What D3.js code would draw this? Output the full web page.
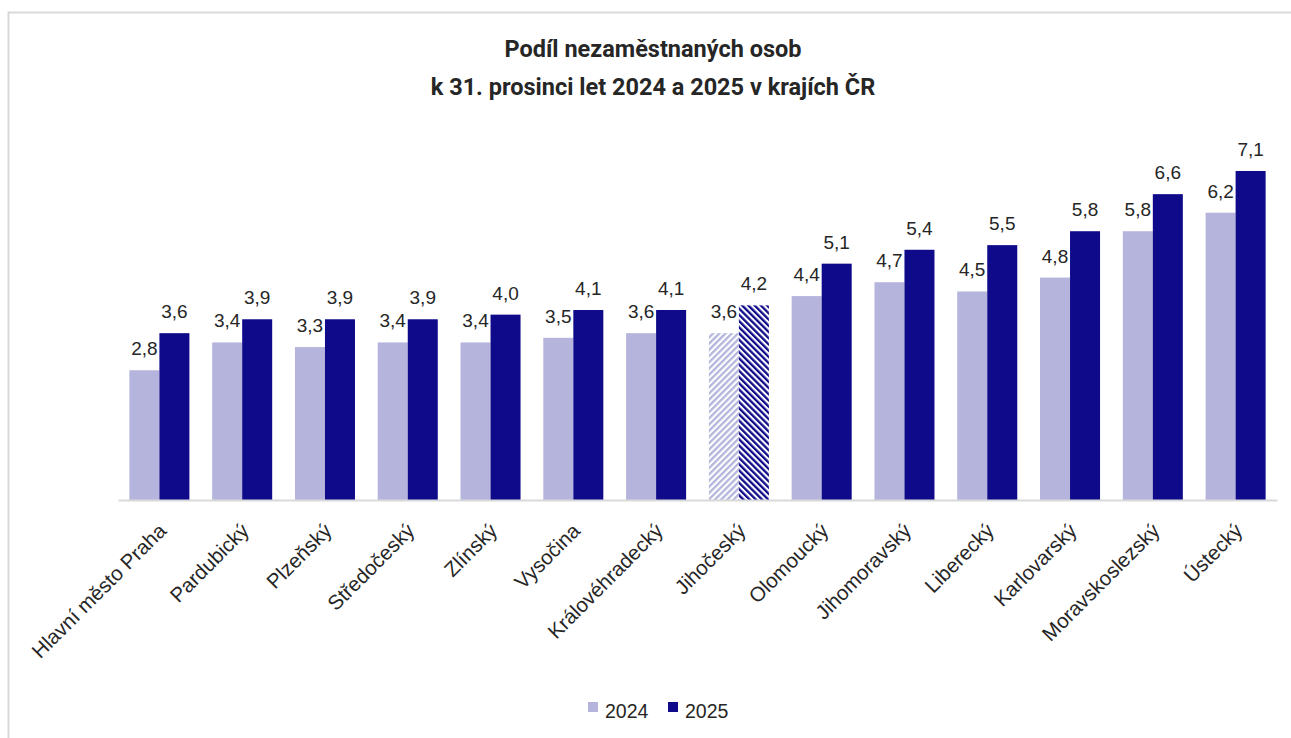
<!DOCTYPE html>
<html>
<head>
<meta charset="utf-8">
<script src="https://cdn.jsdelivr.net/npm/d3@7"></script>
<style>
  html, body { margin: 0; padding: 0; background: #fff; }
  svg { display: block; }
</style>
</head>
<body>
<svg id="chart" width="1291" height="738"></svg>
<script>
const categories = ["Hlavní město Praha", "Pardubický", "Plzeňský", "Středočeský", "Zlínský", "Vysočina", "Královéhradecký", "Jihočeský", "Olomoucký", "Jihomoravský", "Liberecký", "Karlovarský", "Moravskoslezský", "Ústecký"];
const values2024 = [2.8, 3.4, 3.3, 3.4, 3.4, 3.5, 3.6, 3.6, 4.4, 4.7, 4.5, 4.8, 5.8, 6.2];
const values2025 = [3.6, 3.9, 3.9, 3.9, 4.0, 4.1, 4.1, 4.2, 5.1, 5.4, 5.5, 5.8, 6.6, 7.1];
const seriesNames = ["2024", "2025"];
const hatchedCategories = ["Jihočeský"];
const titleLines = ["Podíl nezaměstnaných osob", "k 31. prosinci  let 2024 a 2025 v krajích ČR"];

const colors = { "2024": "#b4b4dc", "2025": "#0f0a8a" };
const textColor = "#262626";

const svg = d3.select("#chart");

// outer border
svg.append("rect").attr("x", 8.5).attr("y", 12.5).attr("width", 1300).attr("height", 760)
  .attr("fill", "#fff").attr("stroke", "#d9d9d9").attr("stroke-width", 2);

// patterns
const defs = svg.append("defs");
seriesNames.forEach((s, i) => {
  const p = defs.append("pattern").attr("id", "hatch" + s)
    .attr("patternUnits", "userSpaceOnUse").attr("width", 4.4).attr("height", 4.4)
    .attr("patternTransform", i === 0 ? "rotate(45)" : "rotate(-45)");
  p.append("rect").attr("width", 4.4).attr("height", 4.4).attr("fill", "#fff");
  p.append("rect").attr("width", 2.3).attr("height", 4.4).attr("fill", colors[s]);
});

// title
svg.append("text").attr("text-anchor", "middle")
  .attr("font-family", "Roboto, 'Liberation Sans', sans-serif").attr("font-weight", "bold")
  .attr("font-size", 23.5).attr("fill", textColor)
  .selectAll("tspan").data(titleLines).join("tspan")
  .attr("x", 653).attr("y", (d, i) => 57 + i * 38).text(d => d);

const data = categories.map((c, i) => ({ cat: c, "2024": values2024[i], "2025": values2025[i] }));

const x0 = d3.scaleBand().domain(categories).range([118, 1277]).paddingInner(0.275).paddingOuter(0.1375);
const x1 = d3.scaleBand().domain(seriesNames).range([0, x0.bandwidth()]);
const y = d3.scaleLinear().domain([0, 8]).range([500, 500 - 8 * 46.34]);

const fmt = v => d3.format(".1f")(v).replace(".", ",");

const groups = svg.append("g").selectAll("g").data(data).join("g")
  .attr("transform", d => `translate(${x0(d.cat)},0)`);

groups.selectAll("rect").data(d => seriesNames.map(s => ({ s, v: d[s], cat: d.cat }))).join("rect")
  .attr("x", d => x1(d.s)).attr("width", x1.bandwidth())
  .attr("y", d => y(d.v)).attr("height", d => y(0) - y(d.v))
  .attr("fill", d => hatchedCategories.includes(d.cat) ? `url(#hatch${d.s})` : colors[d.s]);

groups.selectAll("text").data(d => seriesNames.map(s => ({ s, v: d[s] }))).join("text")
  .attr("x", d => x1(d.s) + x1.bandwidth() / 2).attr("y", d => y(d.v) - 15)
  .attr("text-anchor", "middle").attr("font-family", "'Liberation Sans', Arial, sans-serif")
  .attr("font-size", 19).attr("fill", textColor).text(d => fmt(d.v));

// axis
const xAxis = svg.append("g").attr("transform", `translate(0,${y(0)})`)
  .call(d3.axisBottom(x0).tickSize(0).tickFormat(""));
xAxis.select(".domain").attr("stroke", "#d9d9d9").attr("stroke-width", 2);

svg.append("g").selectAll("text").data(categories).join("text")
  .attr("transform", d => `translate(${x0(d) + x0.bandwidth() / 2 + 3},${y(0) + 27}) rotate(-45)`)
  .attr("text-anchor", "end").attr("dy", "0.35em")
  .attr("font-family", "'Liberation Sans', Arial, sans-serif").attr("font-size", 20.5)
  .attr("fill", textColor).text(d => d);

// legend
const legend = svg.append("g").selectAll("g").data(seriesNames).join("g")
  .attr("transform", (d, i) => `translate(${588 + i * 80},702)`);
legend.append("rect").attr("width", 10).attr("height", 10).attr("fill", d => colors[d]);
legend.append("text").attr("x", 17).attr("y", 15.5)
  .attr("font-family", "'Liberation Sans', Arial, sans-serif").attr("font-size", 19.5)
  .attr("fill", textColor).text(d => d);
</script>
</body>
</html>
